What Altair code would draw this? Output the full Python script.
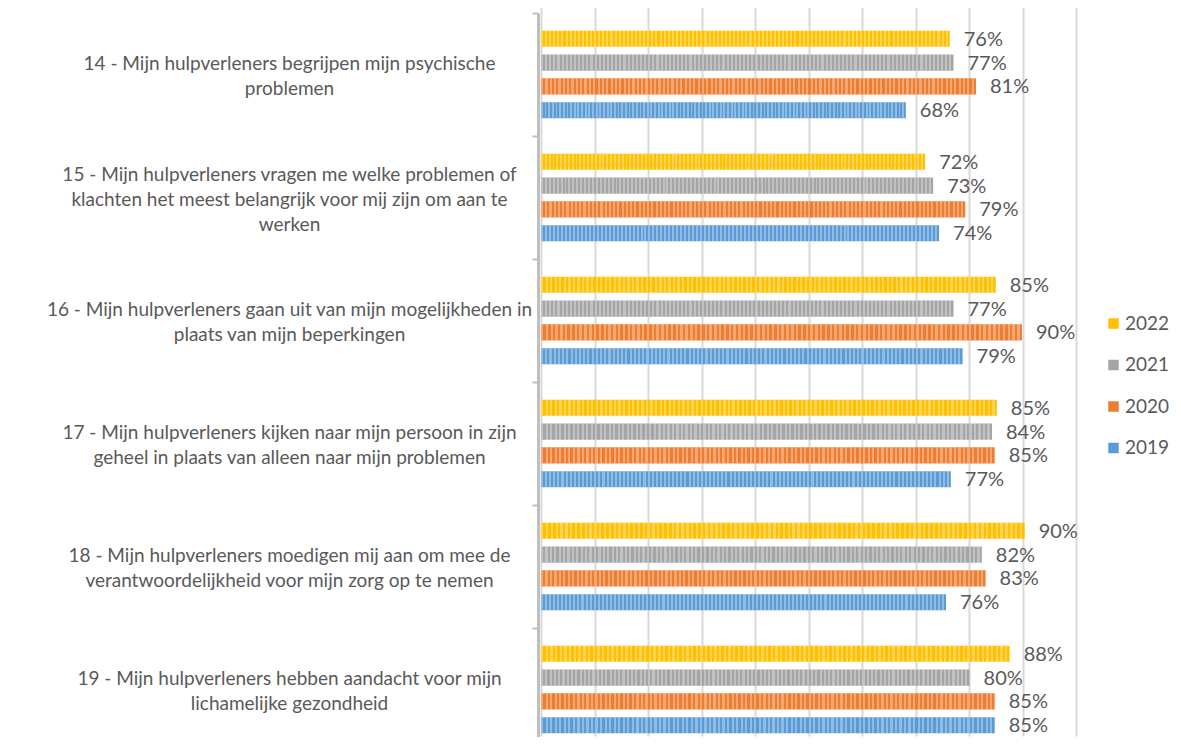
import altair as alt
import pandas as pd

questions = [
    "14 - Mijn hulpverleners begrijpen mijn psychische|problemen",
    "15 - Mijn hulpverleners vragen me welke problemen of|klachten het meest belangrijk voor mij zijn om aan te|werken",
    "16 - Mijn hulpverleners gaan uit van mijn mogelijkheden in|plaats van mijn beperkingen",
    "17 - Mijn hulpverleners kijken naar mijn persoon in zijn|geheel in plaats van alleen naar mijn problemen",
    "18 - Mijn hulpverleners moedigen mij aan om mee de|verantwoordelijkheid voor mijn zorg op te nemen",
    "19 - Mijn hulpverleners hebben aandacht voor mijn|lichamelijke gezondheid",
]
years = ["2022", "2021", "2020", "2019"]
v2022 = [76.4, 71.8, 85.0, 85.2, 90.4, 87.6]
v2021 = [77.1, 73.3, 77.1, 84.3, 82.4, 80.1]
v2020 = [81.3, 79.3, 89.9, 84.8, 83.1, 84.8]
v2019 = [68.2, 74.4, 78.8, 76.6, 75.7, 84.8]
colors = ["#FFC000", "#A5A5A5", "#ED7D31", "#5B9BD5"]

series = {"2022": v2022, "2021": v2021, "2020": v2020, "2019": v2019}
rows = []
for y in years:
    for q, v in zip(questions, series[y]):
        rows.append({"question": q, "year": y, "value": v})
df = pd.DataFrame(rows)

FONT = "Lato"
TXT = "#595959"
LH = 25

# vertical stripe texture (style only)
N = 100
light = "rgba(255,255,255,0.32)"
clear = "rgba(255,255,255,0)"
stops = []
for i in range(N):
    a, b, c = i / N, (i + 0.5) / N, (i + 1) / N
    stops += [
        alt.GradientStop(color=light, offset=a),
        alt.GradientStop(color=light, offset=b),
        alt.GradientStop(color=clear, offset=b),
        alt.GradientStop(color=clear, offset=c),
    ]
stripes = alt.LinearGradient(gradient="linear", stops=stops, x1=0, x2=1, y1=0, y2=0)

base = alt.Chart(df).transform_calculate(
    label="format(datum.value, '.0f') + '%'"
).encode(
    y=alt.Y(
        "question:N",
        sort=questions,
        scale=alt.Scale(range=[1, 739], paddingInner=0, paddingOuter=0),
        axis=alt.Axis(
            title=None,
            tickBand="extent",
            labelExpr="split(datum.label, '|')",
            labelAlign="center",
            labelBaseline={
                "condition": {
                    "test": "length(split(datum.value, '|')) == 2",
                    "value": "line-top",
                },
                "value": "middle",
            },
            labelOffset=-LH + 2,
            labelPadding=243,
            labelFont=FONT,
            labelFontSize=19,
            labelColor=TXT,
            labelLineHeight=LH,
            labelLimit=700,
            labelOverlap=False,
            domainColor="#BFBFBF",
            domainWidth=3,
            tickColor="#BFBFBF",
            tickWidth=2,
            tickSize=6,
            offset=3,
            grid=False,
        ),
    ),
    yOffset=alt.YOffset(
        "year:N", sort=years, scale=alt.Scale(paddingInner=0.325, paddingOuter=0.75)
    ),
    x=alt.X(
        "value:Q",
        scale=alt.Scale(domain=[0, 100]),
        axis=alt.Axis(
            title=None,
            labels=False,
            ticks=False,
            domain=False,
            grid=True,
            gridColor="#D9D9D9",
            gridWidth=2,
            values=[0, 10, 20, 30, 40, 50, 60, 70, 80, 90, 100],
        ),
    ),
)

bars = base.mark_bar().encode(
    color=alt.Color(
        "year:N",
        sort=years,
        scale=alt.Scale(domain=years, range=colors),
        legend=alt.Legend(
            title=None,
            orient="none",
            legendX=563,
            legendY=302,
            symbolType="square",
            symbolSize=110,
            symbolStrokeWidth=0,
            labelFont=FONT,
            labelFontSize=19,
            labelColor=TXT,
            rowPadding=21.5,
            padding=0,
            labelOffset=2,
        ),
    )
)

texture = base.mark_bar(fill=stripes)

labels = base.mark_text(
    align="left", baseline="middle", dx=14, dy=1, font=FONT, fontSize=20, color=TXT
).encode(text="label:N")

chart = (
    alt.layer(bars, texture, labels)
    .properties(
        width=535,
        height=725,
        padding={"left": 533, "top": 4, "right": 97, "bottom": 0},
        autosize=alt.AutoSizeParams(type="none"),
        background="white",
    )
    .configure_view(stroke=None)
)

chart.save("out.html", embed_options={"renderer": "svg", "actions": False})
